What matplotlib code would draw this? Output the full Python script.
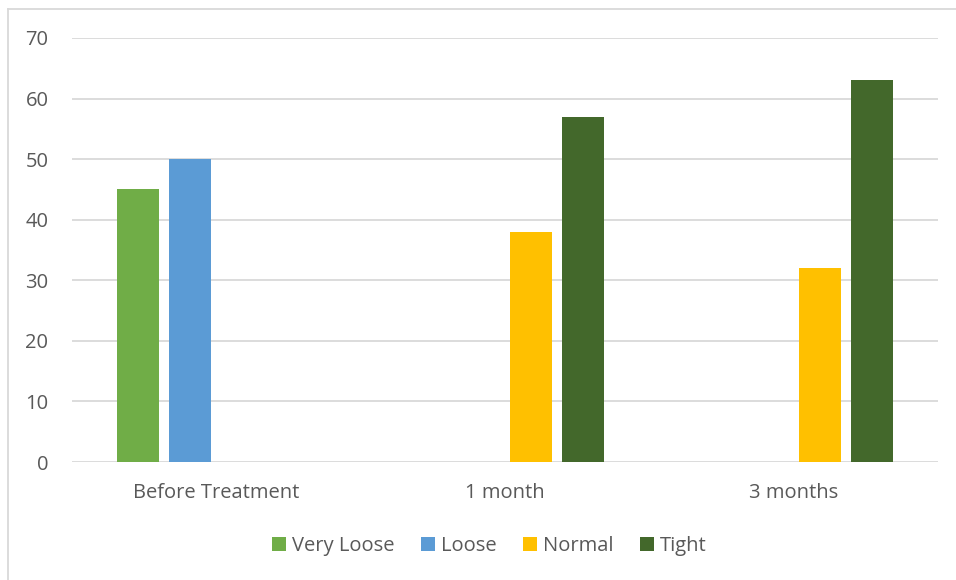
import numpy as np
import matplotlib.pyplot as plt

plt.rcParams['font.family'] = ['Open Sans', 'DejaVu Sans']

# survey results per period
periods = ["Before Treatment", "1 month", "3 months"]
very_loose = [45, 0, 0]
loose = [50, 0, 0]
normal = [0, 38, 32]
tight = [0, 57, 63]

series = [("Very Loose", very_loose, "#70ad47"),
          ("Loose", loose, "#5b9bd5"),
          ("Normal", normal, "#ffc000"),
          ("Tight", tight, "#43682b")]

txt = "#595959"
fig = plt.figure(figsize=(9.56, 5.8), dpi=100)
ax = fig.add_axes([0.0753, 0.2034, 0.9812 - 0.0753, 0.9345 - 0.2034])

x = np.arange(len(periods))
step, w = 0.18, 0.145
for k, (name, vals, col) in enumerate(series):
    ax.bar(x + (k - 1.5) * step, vals, width=w, color=col, label=name, zorder=3)

ax.set_xlim(-0.5, 2.5)
ax.set_ylim(0, 70)
ax.set_yticks(range(0, 71, 10))
ax.set_xticks(x)
ax.set_xticklabels(periods)
ax.grid(axis='y', color="#d9d9d9", linewidth=1.3, zorder=0)
for s in ax.spines.values():
    s.set_visible(False)
ax.tick_params(axis='both', length=0, labelsize=14.5, labelcolor=txt)
ax.tick_params(axis='y', pad=17)
ax.tick_params(axis='x', pad=15)

fig.legend(loc='center', bbox_to_anchor=(0.512, 0.0586), ncol=4, frameon=False,
           fontsize=14.5, labelcolor=txt, handlelength=0.7, handleheight=0.7,
           handletextpad=0.3, columnspacing=1.3)

# thin frame on the top and left edges
fig.add_artist(plt.Line2D([8 / 956, 1], [1 - 9 / 580] * 2, color="#d9d9d9", lw=1.3))
fig.add_artist(plt.Line2D([8 / 956] * 2, [0, 1 - 9 / 580], color="#d9d9d9", lw=1.3))

fig.savefig("out.png", dpi=100)
